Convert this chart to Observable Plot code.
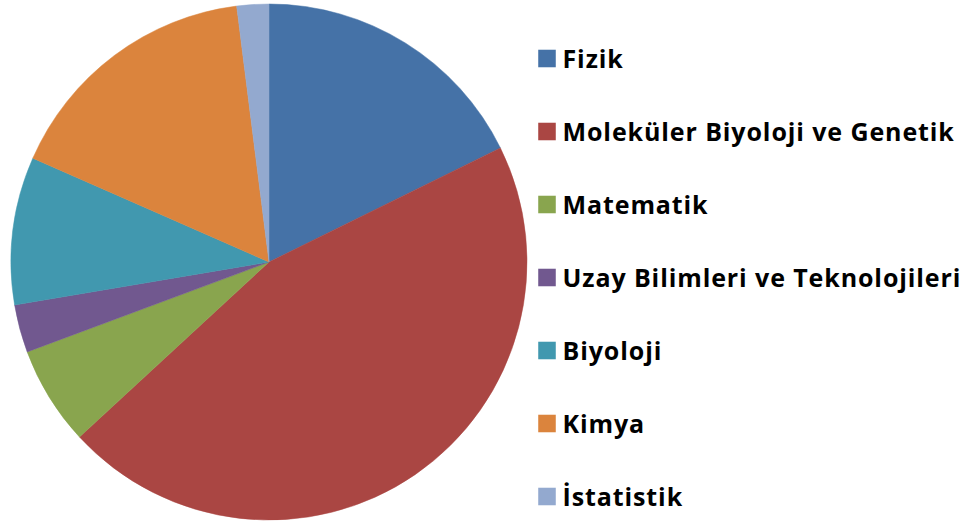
<!DOCTYPE html>
<html>
<head>
<meta charset="utf-8">
<script src="https://cdn.jsdelivr.net/npm/d3@7"></script>
<script src="https://cdn.jsdelivr.net/npm/@observablehq/plot@0.6"></script>
<style>
  html, body { margin: 0; padding: 0; background: #fff; }
  #chart { width: 966px; height: 522px; }
  #chart svg text { letter-spacing: 0.9px; }
</style>
</head>
<body>
<div id="chart"></div>
<script>
const categories = [
  "Fizik",
  "Moleküler Biyoloji ve Genetik",
  "Matematik",
  "Uzay Bilimleri ve Teknolojileri",
  "Biyoloji",
  "Kimya",
  "İstatistik"
];
const shares = [17.7, 45.4, 6.2, 3.0, 9.25, 16.4, 2.0];
const colors = ["#4572A7", "#AA4643", "#89A54E", "#71588F", "#4198AF", "#DB843D", "#93A9CF"];

const data = categories.map((c, i) => ({category: c, share: shares[i]}));

function pieMark(index, scales, values, dimensions) {
  const cx = 269, cy = 262, r = 258;
  const arcs = d3.pie().sort(null).value(d => d.share)(data);
  const arc = d3.arc().innerRadius(0).outerRadius(r);
  const g = d3.create("svg:g").attr("transform", `translate(${cx},${cy})`);
  g.selectAll("path")
    .data(arcs)
    .join("path")
    .attr("d", arc)
    .attr("fill", d => scales.color(d.data.category))
    .attr("stroke", d => scales.color(d.data.category))
    .attr("stroke-width", 0.5);
  return g.node();
}

const chart = Plot.plot({
  width: 966,
  height: 522,
  margin: 0,
  style: {fontFamily: "'Open Sans', sans-serif", background: "#fff"},
  x: {type: "identity", axis: null},
  y: {type: "point", domain: categories, range: [56.5, 496.5], padding: 0, axis: null},
  color: {type: "ordinal", domain: categories, range: colors},
  marks: [
    pieMark,
    Plot.dot(categories, {x: 546.5, y: d => d, symbol: "square", r: 9.9, fill: d => d}),
    Plot.text(categories, {
      x: 562, y: d => d, text: d => d,
      textAnchor: "start", fontSize: 25, fontWeight: "bold", fill: "#000", dy: 1
    })
  ]
});
document.getElementById("chart").appendChild(chart);
</script>
</body>
</html>
